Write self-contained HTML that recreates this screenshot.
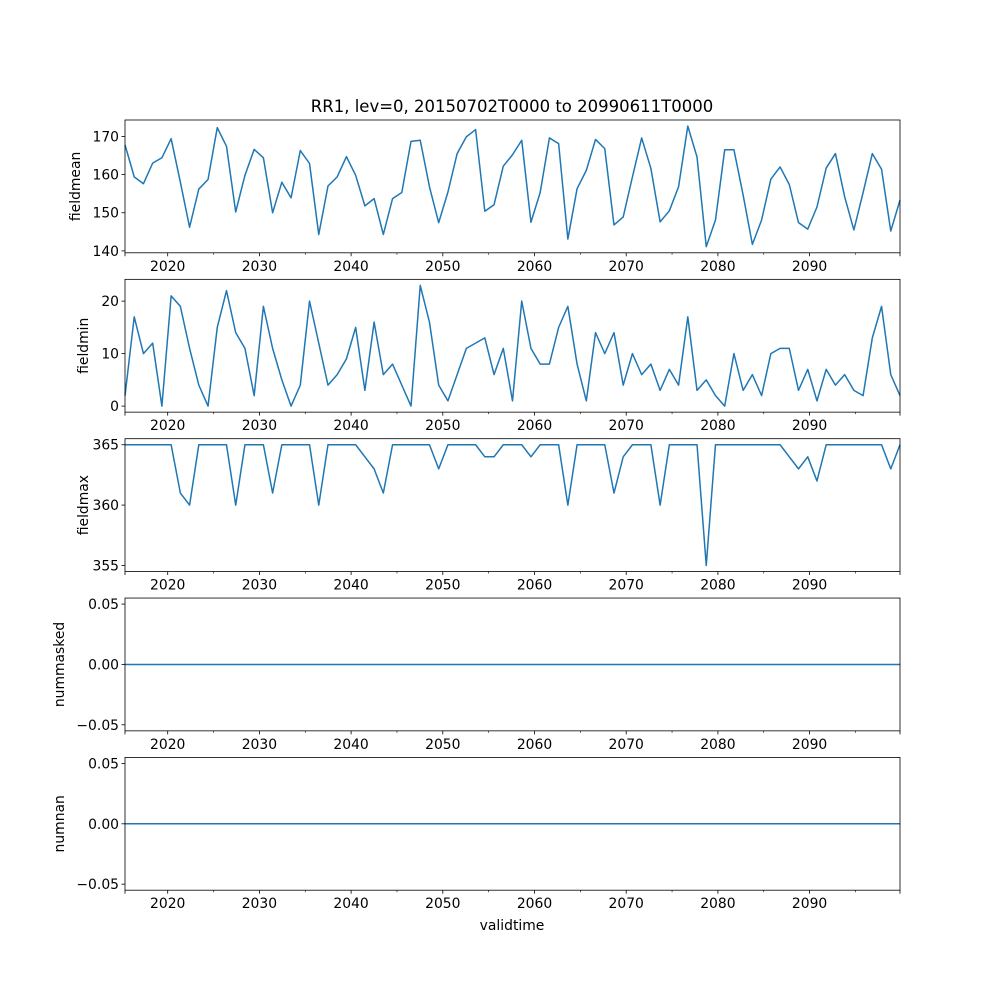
<!DOCTYPE html>
<html><head><meta charset="utf-8">
<style>
html,body{margin:0;padding:0;background:#fff;}
svg{display:block;font-family:"DejaVu Sans","Liberation Sans",sans-serif;}
</style></head>
<body>
<svg id="chart" width="1000" height="1000" viewBox="0 0 1000 1000" xmlns="http://www.w3.org/2000/svg">
<rect width="1000" height="1000" fill="#fff"/>
<text x="512" y="112" font-size="16.5" text-anchor="middle">RR1, lev=0, 20150702T0000 to 20990611T0000</text>
<text x="512" y="930" font-size="13.9" text-anchor="middle">validtime</text>
</svg>
<script>
const fieldmean=[167.8,159.4,157.6,163,164.4,169.4,158,146.2,156.2,158.7,172.3,167.4,150.2,159.8,166.6,164.4,150,158,153.9,166.3,162.9,144.3,157,159.4,164.7,159.8,151.8,153.7,144.3,153.7,155.3,168.7,169,156.8,147.4,155.4,165.5,169.9,171.8,150.4,152.1,162.2,165.2,169,147.5,155.3,169.6,168.1,143.1,156.3,161.1,169.2,166.8,146.8,148.9,159.4,169.6,161.6,147.6,150.5,156.8,172.7,164.6,141.1,148.1,166.5,166.5,154.6,141.7,148.1,158.8,162,157.4,147.4,145.7,151.5,161.7,165.5,154.2,145.5,155.3,165.5,161.4,145.2,153.3];
const fieldmin=[2,17,10,12,0,21,19,11,4,0,15,22,14,11,2,19,11,5,0,4,20,12,4,6,9,15,3,16,6,8,4,0,23,16,4,1,6,11,12,13,6,11,1,20,11,8,8,15,19,8,1,14,10,14,4,10,6,8,3,7,4,17,3,5,2,0,10,3,6,2,10,11,11,3,7,1,7,4,6,3,2,13,19,6,2];
const fieldmax=[365,365,365,365,365,365,361,360,365,365,365,365,360,365,365,365,361,365,365,365,365,360,365,365,365,365,364,363,361,365,365,365,365,365,363,365,365,365,365,364,364,365,365,365,364,365,365,365,360,365,365,365,365,361,364,365,365,365,360,365,365,365,365,355,365,365,365,365,365,365,365,365,364,363,364,362,365,365,365,365,365,365,365,363,365];
const nummasked=fieldmean.map(()=>0);
const numnan=fieldmean.map(()=>0);
const xTickLabels=[2020,2030,2040,2050,2060,2070,2080,2090];
const xMinorTicks=[2025,2035,2045,2055,2065,2075,2085,2095];
const panelNames=["fieldmean","fieldmin","fieldmax","nummasked","numnan"];
const yTicks1=[140,150,160,170];
const yTicks2=[0,10,20];
const yTicks3=[355,360,365];
const yTicks45=[-0.05,0,0.05];

const NS="http://www.w3.org/2000/svg";
const svg=document.getElementById('chart');
const L=125,R=900;
function xYear(t){return 167.7+(t-2020)*9.17;}
function xIdx(i,n){return L+(R-L)*i/(n-1);}
function mk(tag,attrs,parent){const e=document.createElementNS(NS,tag);for(const k in attrs)e.setAttribute(k,attrs[k]);(parent||svg).appendChild(e);return e;}

const panels=[
 {data:fieldmean,lo:139.5,hi:174.3,ticks:yTicks1,fmt:v=>String(v)},
 {data:fieldmin,lo:-1.15,hi:24.15,ticks:yTicks2,fmt:v=>String(v)},
 {data:fieldmax,lo:354.5,hi:365.5,ticks:yTicks3,fmt:v=>String(v)},
 {data:nummasked,lo:-0.055,hi:0.055,ticks:yTicks45,fmt:v=>(v<0?"\u2212":"")+Math.abs(v).toFixed(2)},
 {data:numnan,lo:-0.055,hi:0.055,ticks:yTicks45,fmt:v=>(v<0?"\u2212":"")+Math.abs(v).toFixed(2)}
];
const H=132.8,GAP=26.55,TOP=120;
panels.forEach((p,k)=>{
 const top=TOP+k*(H+GAP),bot=top+H;
 const y=v=>bot-(v-p.lo)/(p.hi-p.lo)*H;
 const g=mk('g',{});
 
 
 // line
 const pts=p.data.map((v,i)=>xIdx(i,p.data.length).toFixed(2)+","+y(v).toFixed(2)).join(" ");
 const pl=mk('polyline',{points:pts,fill:'none',stroke:'#1f77b4','stroke-width':1.5,'stroke-linejoin':'round'},g);
 
 
 // frame
 const fr=mk('rect',{x:L,y:top,width:R-L,height:H,fill:'none',stroke:'#000','stroke-width':0.8},g);
 
 
 // y ticks
 p.ticks.forEach(v=>{
  const yy=y(v);
  mk('line',{x1:L-3.5,x2:L,y1:yy,y2:yy,stroke:'#000','stroke-width':0.8},g);
  const t=mk('text',{x:L-6,y:yy+5,'font-size':13.9,'text-anchor':'end'},g);
  
  
  t.textContent=p.fmt(v);
 });
 // x ticks
 xTickLabels.forEach(t=>{
  const xx=xYear(t);
  mk('line',{x1:xx,x2:xx,y1:bot,y2:bot+3.5,stroke:'#000','stroke-width':0.8},g);
  const tx=mk('text',{x:xx,y:bot+18,'font-size':13.9,'text-anchor':'middle'},g);
  
  
  tx.textContent=t;
 });
 xMinorTicks.forEach(t=>{
  const xx=xYear(t);
  mk('line',{x1:xx,x2:xx,y1:bot,y2:bot+2,stroke:'#000','stroke-width':0.6},g);
 });
 mk('line',{x1:L,x2:L,y1:bot,y2:bot+3.5,stroke:'#000','stroke-width':0.8},g);
 mk('line',{x1:R,x2:R,y1:bot,y2:bot+3.5,stroke:'#000','stroke-width':0.8},g);
 // y label
 const labX=(k>=3)?64:(k===0?80:88);
 const yl=mk('text',{x:labX,y:(top+bot)/2,'font-size':13.9,'text-anchor':'middle',transform:'rotate(-90 '+labX+' '+((top+bot)/2)+')'},g);
 
 
 yl.textContent=panelNames[k];
});
</script>
</body></html>
